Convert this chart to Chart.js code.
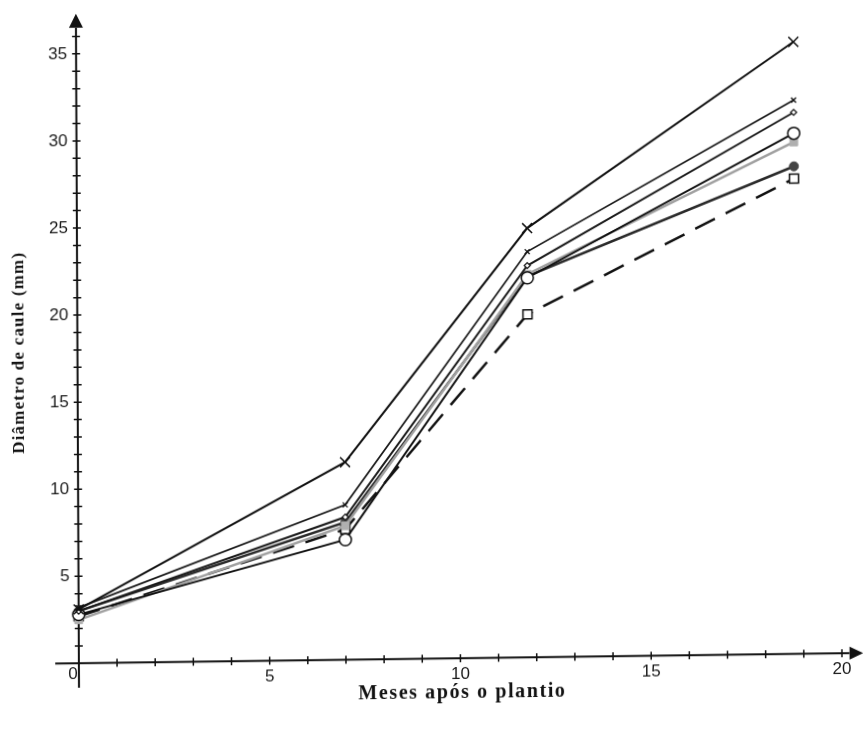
<!DOCTYPE html>
<html><head><meta charset="utf-8">
<script src="https://cdn.jsdelivr.net/npm/chart.js@4.4.1/dist/chart.umd.min.js"></script>
<style>
html,body{margin:0;padding:0;background:#fff;overflow:hidden}
#wrap{width:863px;height:730px;position:relative;background:#fff}
canvas{display:block;transform-origin:79px 663px;transform:matrix(1,-0.0131,0.0046,1,0,0)}
</style></head><body>
<div id="wrap"><canvas id="c" width="863" height="730"></canvas></div>
<script>
// ---- data ----
const months = [0, 7, 11.8, 18.8];
const serieX      = [3.1, 11.35, 24.65, 35.15];
const serieSmallX = [3.2, 8.9, 23.3, 31.8];
const serieDiam   = [3.0, 8.2, 22.5, 31.1];
const serieCircle = [2.8, 6.9, 21.8, 29.9];
const serieGray   = [2.5, 7.7, 22.0, 29.4];
const serieFilled = [3.0, 7.9, 21.9, 28.0];
const serieSquare = [2.7, 7.5, 19.7, 27.3];
const xTickValues = [0, 5, 10, 15, 20];
const yTickValues = [5, 10, 15, 20, 25, 30, 35];
const xTitle = 'Meses após o plantio';
const yTitle = 'Diâmetro de caule (mm)';

const pts = arr => arr.map((v, i) => ({x: months[i], y: v}));

const axesPlugin = {
  id: 'axesPlugin',
  beforeDatasetsDraw(chart) {
    const {ctx, scales: {x, y}} = chart;
    const x0 = x.getPixelForValue(0), y0 = y.getPixelForValue(0);
    ctx.save();
    ctx.strokeStyle = '#111'; ctx.fillStyle = '#111'; ctx.lineWidth = 2;
    // x axis line + arrow
    const xl = x.getPixelForValue(-0.62), xr = x.getPixelForValue(20.2), xt = x.getPixelForValue(20.56);
    ctx.beginPath(); ctx.moveTo(xl, y0); ctx.lineTo(xr, y0); ctx.stroke();
    ctx.beginPath(); ctx.moveTo(xt, y0); ctx.lineTo(xr, y0 - 6.5); ctx.lineTo(xr, y0 + 6.5); ctx.closePath(); ctx.fill();
    // y axis line + arrow
    const yb = y.getPixelForValue(-1.4), ya = y.getPixelForValue(36.5), yt = y.getPixelForValue(37.3);
    ctx.beginPath(); ctx.moveTo(x0, yb); ctx.lineTo(x0, ya); ctx.stroke();
    ctx.beginPath(); ctx.moveTo(x0, yt); ctx.lineTo(x0 - 7, ya); ctx.lineTo(x0 + 7, ya); ctx.closePath(); ctx.fill();
    // ticks
    ctx.lineWidth = 1.5;
    ctx.beginPath();
    for (let i = 1; i <= 20; i++) { const px = x.getPixelForValue(i); ctx.moveTo(px, y0 - 4); ctx.lineTo(px, y0 + 4); }
    for (let j = 1; j <= 36; j++) { const py = y.getPixelForValue(j); ctx.moveTo(x0 - 4, py); ctx.lineTo(x0 + 4, py); }
    ctx.stroke();
    // tick labels
    ctx.font = '17px "Liberation Sans", Arial, sans-serif';
    ctx.fillStyle = '#1a1a1a';
    ctx.textBaseline = 'middle';
    ctx.textAlign = 'center';
    xTickValues.forEach(v => {
      const px = x.getPixelForValue(v);
      if (v === 0) ctx.fillText(String(v), px - 6, y0 + 11);
      else ctx.fillText(String(v), px, y0 + 16);
    });
    ctx.textAlign = 'right';
    yTickValues.forEach(v => ctx.fillText(String(v), x0 - 9, y.getPixelForValue(v)));
    // titles
    ctx.fillStyle = '#111';
    ctx.font = 'bold 20px "Liberation Serif", "Times New Roman", serif';
    ctx.letterSpacing = '1.6px';
    ctx.textAlign = 'center';
    ctx.fillText(xTitle, x.getPixelForValue(10.05), 698);
    ctx.save();
    ctx.translate(21, 352);
    ctx.rotate(-Math.PI / 2);
    ctx.font = 'bold 17px "Liberation Serif", "Times New Roman", serif';
    ctx.letterSpacing = '1.2px';
    ctx.fillText(yTitle, 0, 0);
    ctx.restore();
    ctx.restore();
  }
};

const common = {showLine: true, clip: false, tension: 0, pointHoverRadius: 0};
new Chart(document.getElementById('c'), {
  type: 'scatter',
  data: {
    datasets: [
      {...common, label: 'G', data: pts(serieSquare), borderColor: '#111', borderWidth: 2.5, borderDash: [22, 12],
        pointStyle: 'rect', pointRadius: 6.4, pointBackgroundColor: '#fff', pointBorderColor: '#111', pointBorderWidth: 1.5, order: 7},
      {...common, label: 'F', data: pts(serieFilled), borderColor: '#2a2a2a', borderWidth: 2.5,
        pointStyle: 'circle', pointRadius: 4.5, pointBackgroundColor: '#444', pointBorderColor: '#444', pointBorderWidth: 1, order: 6},
      {...common, label: 'E', data: pts(serieGray), borderColor: '#a0a0a0', borderWidth: 2.5,
        pointStyle: 'rect', pointRadius: 5.5, pointBackgroundColor: '#b0b0b0', pointBorderColor: '#b0b0b0', pointBorderWidth: 1, order: 5},
      {...common, label: 'D', data: pts(serieCircle), borderColor: '#111', borderWidth: 2,
        pointStyle: 'circle', pointRadius: 6, pointBackgroundColor: '#fff', pointBorderColor: '#111', pointBorderWidth: 1.5, order: 4},
      {...common, label: 'C', data: pts(serieDiam), borderColor: '#1a1a1a', borderWidth: 2,
        pointStyle: 'rectRot', pointRadius: 3, pointBackgroundColor: '#fff', pointBorderColor: '#111', pointBorderWidth: 1.2, order: 3},
      {...common, label: 'B', data: pts(serieSmallX), borderColor: '#1a1a1a', borderWidth: 1.8,
        pointStyle: 'crossRot', pointRadius: 3.5, pointBorderColor: '#111', pointBorderWidth: 1.3, order: 2},
      {...common, label: 'A', data: pts(serieX), borderColor: '#111', borderWidth: 2,
        pointStyle: 'crossRot', pointRadius: 7, pointBorderColor: '#111', pointBorderWidth: 1.5, order: 1}
    ]
  },
  options: {
    responsive: false,
    animation: false,
    events: [],
    layout: {padding: {left: 56, right: 21, top: 19, bottom: 44}},
    plugins: {legend: {display: false}, tooltip: {enabled: false}},
    scales: {
      x: {type: 'linear', min: -0.6, max: 20, display: false},
      y: {type: 'linear', min: -1.3, max: 37, display: false}
    }
  },
  plugins: [axesPlugin]
});
</script>
</body></html>
